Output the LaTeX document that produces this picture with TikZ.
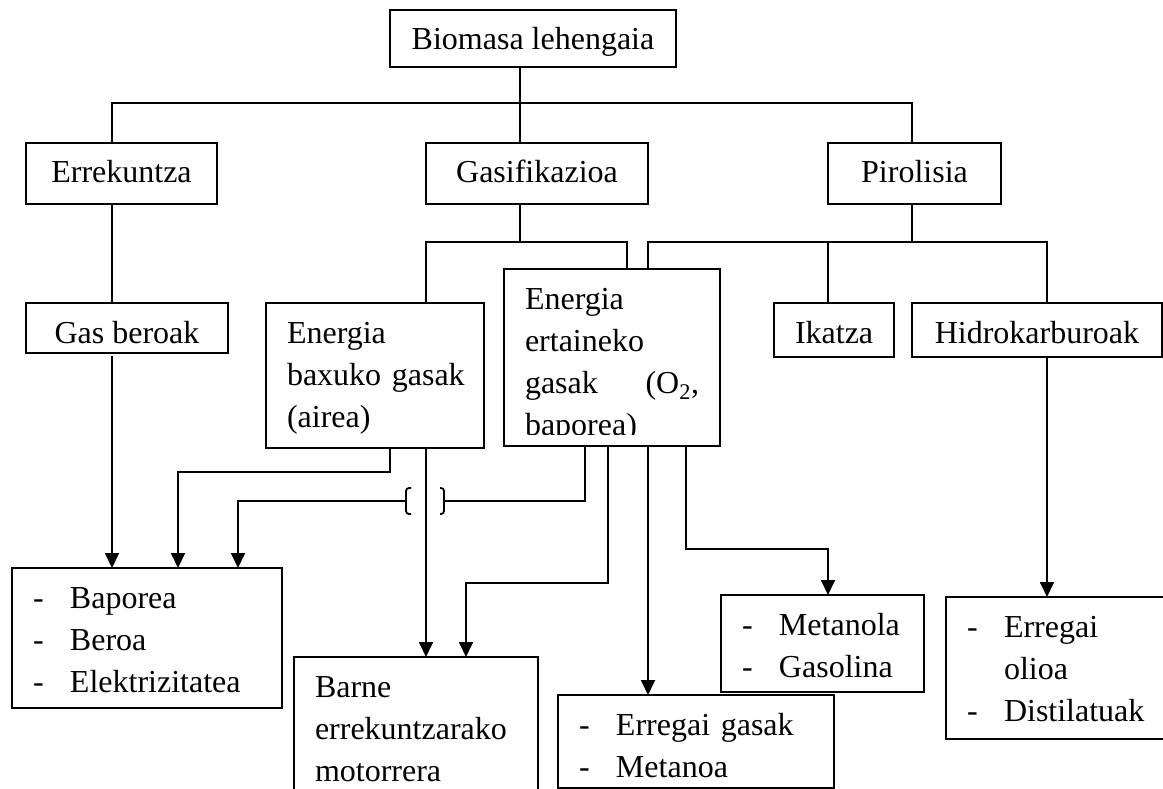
\documentclass[tikz,border=0pt]{standalone}
\usepackage{fontspec}
\setmainfont{Liberation Serif}
\usetikzlibrary{arrows.meta}
\newcommand{\dashitem}{\makebox[37pt][l]{-}}

\begin{document}
\begin{tikzpicture}[x=1pt, y=-1pt, line width=1.8pt,
    font=\fontsize{32}{42}\selectfont,
    box/.style={draw, anchor=north west, outer sep=0pt, inner xsep=21pt,
                inner ysep=0pt, text height=40pt},
    lst/.style={box, align=left},
    arr/.style={-{Triangle[length=15pt, width=14pt]}}
  ]
  \useasboundingbox (0,0) rectangle (1163,789);
  \clip (0,0) rectangle (1163,789);

  \node[box, minimum width=286, text depth=17pt] (bio) at (390,10) {Biomasa lehengaia};
  \node[box, minimum width=191, text depth=21pt] (errek) at (26,143) {Errekuntza};
  \node[box, minimum width=222, text depth=21pt] (gasif) at (426,143) {Gasifikazioa};
  \node[box, minimum width=173, text depth=21pt] (piro) at (828,143) {Pirolisia};

  \node[box, minimum width=202, text depth=10pt] (gasb) at (26,303) {Gas beroak};
  \node[lst, text width=176pt, text depth=105pt] (bax) at (266,303)
    {Energia\\ \mbox{baxuko gasak}\\ (airea)};
  \node[box, minimum width=216, text depth=137pt] (ert) at (504,269) {};
  \begin{scope}
    \clip (ert.north west) rectangle ([shift={(0,-12)}]ert.south east);
    \node[lst, draw=none, text width=174pt, text depth=137pt] (ert-txt) at (ert.north west)
      {Energia\\ ertaineko\\ gasak\hfill(O\textsubscript{2},\\ baporea)};
  \end{scope}
  \node[box, minimum width=108, text depth=14pt] (ika) at (774,303) {Ikatza};
  \node[box, minimum width=250, text depth=14pt] (hid) at (912,303) {Hidrokarburoak};

  \node[lst, text width=228pt, text depth=100pt] (bap) at (12,568)
    {\dashitem Baporea\\ \dashitem Beroa\\ \dashitem Elektrizitatea};
  \node[lst, text width=202pt, text depth=103pt] (bar) at (294,657)
    {Barne\\ errekuntzarako\\ motorrera};
  \node[lst, text width=234pt, text depth=53pt] (fuel) at (558,695)
    {\dashitem Erregai gasak\\ \dashitem Metanoa};
  \node[lst, text width=161pt, text depth=57pt] (met) at (721,595)
    {\dashitem Metanola\\ \dashitem Gasolina};
  \node[lst, text width=182pt, text depth=102pt] (oil) at (946,597)
    {\dashitem Erregai\\ \hspace*{37pt}olioa\\ \dashitem Distilatuak};

  \foreach \n/\x in {kErr/112, kBapB/178, kBapC/238, kBaxS/390, kBax/426, kBarB/466,
                     kMid/520, kErtA/585, kErtB/608, kErt1/627, kErt2/648, kErtC/686,
                     kIka/828, kPir/912, kHid/1047}
    \coordinate (\n) at (\x,0);
  \foreach \n/\y in {rTop/103, rGas/242, rBax/472, rHop/501, rMet/549, rBar/583}
    \coordinate (\n) at (0,\y);
  \coordinate (hop) at (kBax |- rHop);

  \draw (kMid |- bio.south) -- (kMid |- gasif.north);
  \draw (kErr |- errek.north) -- (kErr |- rTop) -- (kPir |- rTop) -- (kPir |- piro.north);
  \draw (kErr |- errek.south) -- (kErr |- gasb.north);
  \draw[arr, shorten <=3pt] (kErr |- gasb.south) -- (kErr |- bap.north);

  \draw (kMid |- gasif.south) -- (kMid |- rGas);
  \draw (kBax |- bax.north) -- (kBax |- rGas) -- (kErt1 |- rGas) -- (kErt1 |- ert.north);
  \draw (kPir |- piro.south) -- (kPir |- rGas);
  \draw (kErt2 |- ert.north) -- (kErt2 |- rGas) -- (kHid |- rGas) -- (kHid |- hid.north);
  \draw (kIka |- rGas) -- (kIka |- ika.north);
  \draw[arr] (kHid |- hid.south) -- (kHid |- oil.north);

  \draw[arr] (kBaxS |- bax.south) -- (kBaxS |- rBax) -- (kBapB |- rBax) -- (kBapB |- bap.north);
  \draw[arr] (kBax |- bax.south) -- (kBax |- bar.north);
  \draw (kErtA |- ert.south) -- (kErtA |- rHop) -- ([shift={(18,0)}]hop);
  \draw[arr] ([shift={(-20,0)}]hop) -- (kBapC |- rHop) -- (kBapC |- bap.north);
  \draw[rounded corners=3pt] ([shift={(-15,-13)}]hop) -- ([shift={(-20,-13)}]hop)
        -- ([shift={(-20,13)}]hop) -- ([shift={(-15,13)}]hop);
  \draw[rounded corners=3pt] ([shift={(14,-13)}]hop) -- ([shift={(18,-13)}]hop)
        -- ([shift={(18,13)}]hop) -- ([shift={(14,13)}]hop);
  \draw[arr] (kErtB |- ert.south) -- (kErtB |- rBar) -- (kBarB |- rBar) -- (kBarB |- bar.north);
  \draw[arr] (kErt2 |- ert.south) -- (kErt2 |- fuel.north);
  \draw[arr] (kErtC |- ert.south) -- (kErtC |- rMet) -- (kIka |- rMet) -- (kIka |- met.north);
\end{tikzpicture}
\end{document}
